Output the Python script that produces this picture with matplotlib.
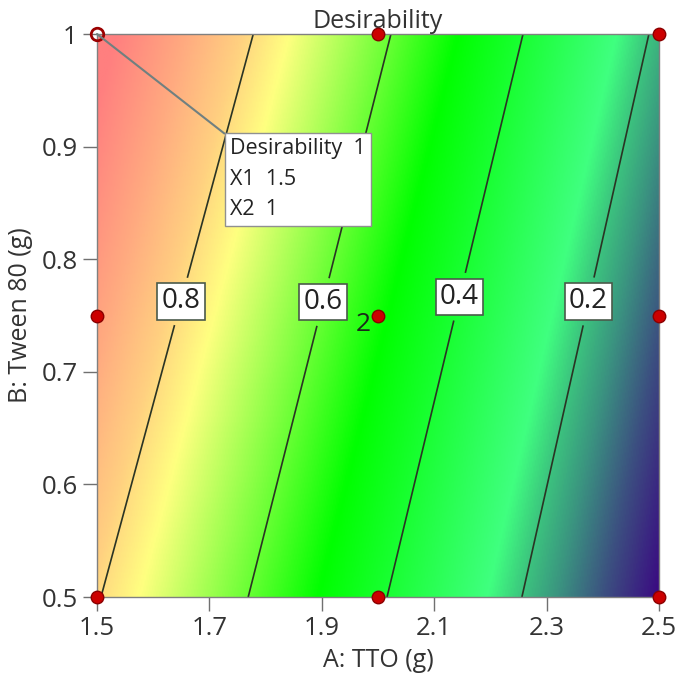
import numpy as np
import matplotlib
matplotlib.use("Agg")
import matplotlib.pyplot as plt
from matplotlib.colors import LinearSegmentedColormap

plt.rcParams['font.family'] = ['Open Sans', 'DejaVu Sans']

# desirability levels and where each level line crosses the bottom (B=0.5) and top (B=1.0) edges
level_vals = [0.0, 0.2, 0.4, 0.6, 0.8, 1.0]
x_at_b_low = [2.50, 2.256, 2.016, 1.769, 1.507, 1.26]
x_at_b_high = [2.70, 2.482, 2.258, 2.023, 1.778, 1.53]
b_low, b_high = 0.5, 1.0

contour_levels = [0.2, 0.4, 0.6, 0.8]
label_pos = [(1.653, 0.762), (1.902, 0.762), (2.151, 0.766), (2.379, 0.762)]

# design points (A: TTO, B: Tween 80)
design_a = [2.0, 2.5, 1.5, 2.0, 2.5, 1.5, 2.0, 2.5]
design_b = [1.0, 1.0, 0.75, 0.75, 0.75, 0.5, 0.5, 0.5]
center_a, center_b, center_n = 2.0, 0.75, 2

best_a, best_b, best_d = 1.5, 1.0, 1

xticks = [1.5, 1.7, 1.9, 2.1, 2.3, 2.5]
yticks = [0.5, 0.6, 0.7, 0.8, 0.9, 1.0]
ytick_labels = ['0.5', '0.6', '0.7', '0.8', '0.9', '1']

# build the surface from the level-line positions
xg = np.linspace(1.5, 2.5, 400)
yg = np.linspace(0.5, 1.0, 300)
X, Y = np.meshgrid(xg, yg)
Z = np.zeros_like(X)
lv = np.array(level_vals)
for i, y in enumerate(yg):
    t = (y - b_low) / (b_high - b_low)
    xs = (1 - t) * np.array(x_at_b_low) + t * np.array(x_at_b_high)
    Z[i] = np.interp(xg, xs[::-1], lv[::-1])
Z = np.clip(Z, 0, 1)

cmap = LinearSegmentedColormap.from_list('desir', [
    (0.00, '#3A0A82'),
    (0.08, '#3C5080'),
    (0.15, '#3A9680'),
    (0.20, '#3CC47E'),
    (0.25, '#40FF80'),
    (0.50, '#00FF00'),
    (0.75, '#FFFF80'),
    (0.82, '#FFD080'),
    (0.90, '#FFAA80'),
    (1.00, '#FF7F7F'),
])

fig = plt.figure(figsize=(6.79, 6.93), dpi=100)
ax = fig.add_axes([0.1429, 0.1385, 0.8277, 0.8124])

ax.imshow(Z, origin='lower', extent=[1.5, 2.5, 0.5, 1.0], aspect='auto',
          cmap=cmap, vmin=0, vmax=1, interpolation='bilinear')
cs = ax.contour(X, Y, Z, levels=contour_levels, colors='#2a3424', linewidths=1.2)
labels = ax.clabel(cs, fmt='%.1f', fontsize=20, inline=True, rightside_up=True,
                   manual=label_pos, colors='#222222')
for t in labels:
    t.set_rotation(0)
    t.set_bbox(dict(boxstyle='square,pad=0.15', fc='white', ec='#4a5a4a', lw=1.2))

# design points
ax.plot(design_a, design_b, 'o', ms=9, mfc='#CC0000', mec='#8B0000', mew=1, clip_on=False, zorder=5)
ax.plot([best_a], [best_b], 'o', ms=9, mfc='none', mec='#9B0000', mew=2, clip_on=False, zorder=6)
ax.text(center_a - 0.012, center_b - 0.008, str(center_n), fontsize=19, color='#1a2a1a',
        ha='right', va='center')

ax.annotate(f'Desirability  {best_d}\nX1  {best_a}\nX2  {best_b:g}',
            xy=(best_a, best_b), xytext=(1.737, 0.9076), textcoords='data',
            ha='left', va='top', fontsize=15.5, linespacing=1.6, color='#222222',
            bbox=dict(boxstyle='square,pad=0.25', fc='white', ec='#909090', lw=1),
            arrowprops=dict(arrowstyle='-', color='#708080', lw=1.5, relpos=(0, 1),
                            shrinkA=0, shrinkB=0), zorder=7)

ax.set_xlim(1.5, 2.5)
ax.set_ylim(0.5, 1.0)
ax.set_xticks(xticks)
ax.set_xticklabels([f'{v:.1f}' for v in xticks])
ax.set_yticks(yticks)
ax.set_yticklabels(ytick_labels)
ax.tick_params(direction='out', length=10, width=1, color='#707070',
               labelsize=18.5, labelcolor='#333333', pad=4)
for s in ax.spines.values():
    s.set_color('#808080')
    s.set_linewidth(1)

ax.set_title('Desirability', fontsize=18, color='#333333', pad=3)
ax.set_xlabel('A: TTO (g)', fontsize=18, color='#333333', labelpad=5)
ax.set_ylabel('B: Tween 80 (g)', fontsize=18, color='#333333', labelpad=6)

plt.savefig('out.png', dpi=100)
